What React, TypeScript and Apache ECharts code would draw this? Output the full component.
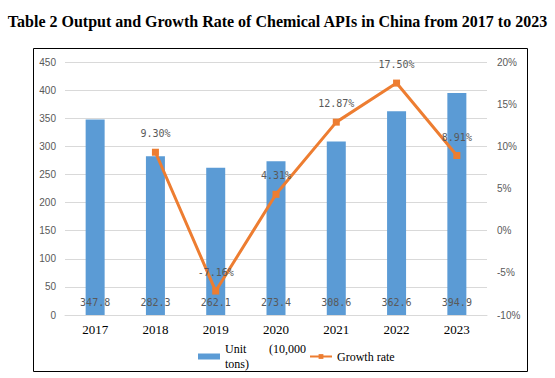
import React, { useEffect, useRef } from "react";
import * as echarts from "echarts";

const titleText = "Table 2 Output and Growth Rate of Chemical APIs in China from 2017 to 2023";
const years = ["2017", "2018", "2019", "2020", "2021", "2022", "2023"];
const outputValues = [347.8, 282.3, 262.1, 273.4, 308.6, 362.6, 394.9];
const growthValues: (number | null)[] = [null, 9.3, -7.16, 4.31, 12.87, 17.5, 8.91];
const barName = "Unit (10,000 tons)";
const lineName = "Growth rate";

export default function App() {
  const ref = useRef<HTMLDivElement>(null);
  useEffect(() => {
    document.body.style.margin = "0";
    const chart = echarts.init(ref.current!, null, { renderer: "svg" });
    const monoFont = "'DejaVu Sans Mono', monospace";
    chart.setOption({
      animation: false,
      backgroundColor: "#ffffff",
      title: {
        text: titleText,
        left: "center",
        top: 8,
        textStyle: {
          fontFamily: "'Liberation Serif', serif",
          fontWeight: "bold",
          fontSize: 16,
          color: "#000000",
        },
      },
      graphic: [
        {
          type: "rect",
          shape: { x: 33.5, y: 48.5, width: 494, height: 323 },
          style: { fill: "none", stroke: "#000000", lineWidth: 1 },
          silent: true,
        },
      ],
      legend: {
        left: 198,
        top: 343,
        padding: 0,
        itemWidth: 22,
        itemHeight: 6,
        itemGap: 3,
        data: [
          { name: barName, icon: "rect" },
          { name: lineName },
        ],
        textStyle: {
          fontFamily: "'Liberation Serif', serif",
          fontSize: 12,
          color: "#000000",
          rich: {
            a: { fontFamily: "'Liberation Serif', serif", fontSize: 12, width: 44, lineHeight: 15 },
            b: { fontFamily: "'Liberation Serif', serif", fontSize: 12, lineHeight: 15 },
          },
        },
        formatter: (name: string) =>
          name === barName ? "{a|Unit}{b|(10,000}\n{a|tons)}" : name,
      },
      grid: { left: 65, right: 68, top: 62, bottom: 63 },
      xAxis: {
        type: "category",
        data: years,
        axisLine: { show: true, lineStyle: { color: "#d9d9d9" } },
        axisTick: { show: false },
        axisLabel: {
          fontFamily: "'Liberation Serif', serif",
          fontSize: 13,
          color: "#000000",
          margin: 8,
        },
      },
      yAxis: [
        {
          type: "value",
          min: 0,
          max: 450,
          interval: 50,
          axisLine: { show: false },
          axisTick: { show: false },
          splitLine: { lineStyle: { color: "#d9d9d9" } },
          axisLabel: {
            fontFamily: "'Liberation Sans', sans-serif",
            fontSize: 10,
            color: "#595959",
            margin: 9,
          },
        },
        {
          type: "value",
          min: -10,
          max: 20,
          interval: 5,
          axisLine: { show: false },
          axisTick: { show: false },
          splitLine: { show: false },
          axisLabel: {
            formatter: "{value}%",
            fontFamily: "'Liberation Sans', sans-serif",
            fontSize: 10,
            color: "#595959",
            margin: 10,
          },
        },
      ],
      series: [
        {
          name: barName,
          type: "bar",
          data: outputValues,
          barWidth: 19,
          itemStyle: { color: "#5b9bd5" },
          label: {
            show: true,
            position: "insideBottom",
            distance: 8,
            fontFamily: monoFont,
            fontSize: 10,
            color: "#595959",
            formatter: (p: any) => p.value.toFixed(1),
          },
          z: 2,
        },
        {
          name: lineName,
          type: "line",
          yAxisIndex: 1,
          data: growthValues,
          connectNulls: false,
          symbol: "rect",
          symbolSize: 7,
          lineStyle: { color: "#ed7d31", width: 3 },
          itemStyle: { color: "#ed7d31" },
          label: {
            show: true,
            position: "top",
            distance: 10,
            fontFamily: monoFont,
            fontSize: 10,
            color: "#595959",
            formatter: (p: any) => (p.value == null ? "" : p.value.toFixed(2) + "%"),
          },
          z: 3,
        },
      ],
    });
    return () => chart.dispose();
  }, []);
  return <div ref={ref} style={{ width: 555, height: 378 }} />;
}
